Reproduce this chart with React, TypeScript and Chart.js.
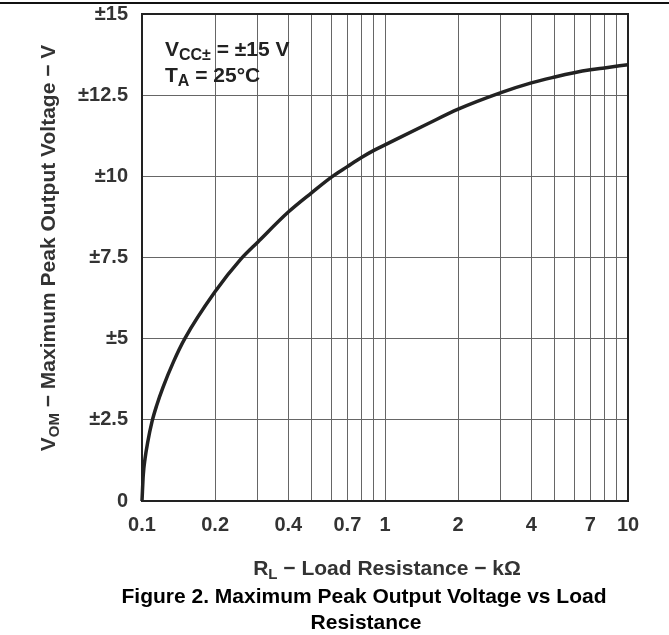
import React, { useEffect, useRef } from "react";
import { Chart, registerables } from "chart.js";

Chart.register(...registerables);

// Data
const resistanceK = [0.1, 0.1012, 0.1029, 0.1055, 0.11, 0.115, 0.122, 0.135, 0.15, 0.2, 0.255, 0.3, 0.4, 0.5, 0.6, 0.7, 0.8, 0.9, 1, 1.5, 2, 3, 4, 5, 6, 7, 8, 10];
const vomVolts = [0, 0.8, 1.3, 1.8, 2.45, 2.95, 3.5, 4.3, 5.0, 6.45, 7.45, 7.98, 8.9, 9.5, 9.97, 10.3, 10.58, 10.8, 10.97, 11.62, 12.07, 12.58, 12.88, 13.06, 13.19, 13.28, 13.34, 13.44];

const xGridValues = [0.1, 0.2, 0.3, 0.4, 0.5, 0.6, 0.7, 0.8, 0.9, 1, 2, 3, 4, 5, 6, 7, 8, 9, 10];
const xLabelValues = [0.1, 0.2, 0.4, 0.7, 1, 2, 4, 7, 10];
const yTickValues = [0, 2.5, 5, 7.5, 10, 12.5, 15];

const FONT = "'Liberation Sans', Arial, Helvetica, sans-serif";

type Seg = { t: string; sub?: boolean };

function measureSegs(ctx: CanvasRenderingContext2D, segs: Seg[], size: number, subSize: number) {
  let w = 0;
  for (const s of segs) {
    ctx.font = `bold ${s.sub ? subSize : size}px ${FONT}`;
    w += ctx.measureText(s.t).width;
  }
  return w;
}

function drawSegs(ctx: CanvasRenderingContext2D, segs: Seg[], x: number, y: number, size: number, subSize: number, subShift: number) {
  let cx = x;
  ctx.textBaseline = "alphabetic";
  ctx.textAlign = "left";
  for (const s of segs) {
    ctx.font = `bold ${s.sub ? subSize : size}px ${FONT}`;
    ctx.fillText(s.t, cx, s.sub ? y + subShift : y);
    cx += ctx.measureText(s.t).width;
  }
}

const decorPlugin = {
  id: "decor",
  beforeDatasetsDraw(chart: any) {
    const { ctx, chartArea } = chart;
    ctx.save();
    ctx.strokeStyle = "#222";
    ctx.lineWidth = 2;
    ctx.strokeRect(chartArea.left, chartArea.top, chartArea.right - chartArea.left, chartArea.bottom - chartArea.top);
    ctx.restore();
  },
  afterDraw(chart: any) {
    const { ctx } = chart;
    ctx.save();
    // top page rule
    ctx.fillStyle = "#111";
    ctx.fillRect(0, 2, 669, 2);

    // annotation
    ctx.fillStyle = "#222";
    drawSegs(ctx, [{ t: "V" }, { t: "CC±", sub: true }, { t: " = ±15 V" }], 165, 56, 21, 16, 4);
    drawSegs(ctx, [{ t: "T" }, { t: "A", sub: true }, { t: " = 25°C" }], 165, 82, 21, 16, 4);

    // x title
    ctx.fillStyle = "#333";
    const xt: Seg[] = [{ t: "R" }, { t: "L", sub: true }, { t: " − Load Resistance − kΩ" }];
    const xw = measureSegs(ctx, xt, 21, 15);
    drawSegs(ctx, xt, 387 - xw / 2, 575, 21, 15, 4);

    // y title (rotated)
    const yt: Seg[] = [{ t: "V" }, { t: "OM", sub: true }, { t: " − Maximum Peak Output Voltage − V" }];
    const yw = measureSegs(ctx, yt, 21, 15);
    ctx.save();
    ctx.translate(55, 248);
    ctx.rotate(-Math.PI / 2);
    drawSegs(ctx, yt, -yw / 2, 0, 21, 15, 4);
    ctx.restore();

    // caption
    ctx.fillStyle = "#000";
    ctx.font = `bold 21px ${FONT}`;
    ctx.textAlign = "center";
    ctx.textBaseline = "alphabetic";
    ctx.fillText("Figure 2. Maximum Peak Output Voltage vs Load", 364, 603);
    ctx.fillText("Resistance", 366, 629);
    ctx.restore();
  },
};

export default function App() {
  const ref = useRef<HTMLCanvasElement | null>(null);

  useEffect(() => {
    if (!ref.current) return;
    const points = resistanceK.map((r, i) => ({ x: r, y: vomVolts[i] }));
    const chart = new Chart(ref.current, {
      type: "line",
      data: {
        datasets: [
          {
            data: points,
            borderColor: "#222",
            borderWidth: 3.5,
            pointRadius: 0,
            cubicInterpolationMode: "monotone",
            fill: false,
            clip: false as any,
          },
        ],
      },
      options: {
        animation: false,
        responsive: false,
        devicePixelRatio: 1,
        events: [],
        layout: { padding: { left: 0, top: 14, right: 41, bottom: 0 } },
        plugins: { legend: { display: false }, tooltip: { enabled: false }, title: { display: false } },
        scales: {
          x: {
            type: "logarithmic",
            min: 0.1,
            max: 10,
            afterBuildTicks: (scale: any) => {
              scale.ticks = xGridValues.map((v) => ({ value: v }));
            },
            afterFit: (scale: any) => {
              scale.height = 134;
              scale.paddingLeft = 0;
              scale.paddingRight = 0;
            },
            ticks: {
              autoSkip: false,
              maxRotation: 0,
              minRotation: 0,
              padding: 12,
              color: "#333",
              font: { family: FONT, size: 20, weight: "bold" },
              callback: (v: any) => (xLabelValues.includes(Number(v)) ? String(Number(v)) : ""),
            },
            grid: { color: "#666", lineWidth: 1, drawTicks: false },
            border: { display: false },
          },
          y: {
            min: 0,
            max: 15,
            afterBuildTicks: (scale: any) => {
              scale.ticks = yTickValues.map((v) => ({ value: v }));
            },
            afterFit: (scale: any) => {
              scale.width = 142;
              scale.paddingTop = 0;
              scale.paddingBottom = 0;
            },
            ticks: {
              padding: 14,
              color: "#333",
              font: { family: FONT, size: 20, weight: "bold" },
              callback: (v: any) => (Number(v) === 0 ? "0" : "±" + String(Number(v))),
            },
            grid: { color: "#666", lineWidth: 1, drawTicks: false },
            border: { display: false },
          },
        },
      },
      plugins: [decorPlugin],
    } as any);
    return () => chart.destroy();
  }, []);

  return (
    <div style={{ position: "absolute", left: 0, top: 0, width: 669, height: 635, background: "#fff" }}>
      <canvas ref={ref} width={669} height={635} style={{ display: "block", width: 669, height: 635 }} />
    </div>
  );
}
